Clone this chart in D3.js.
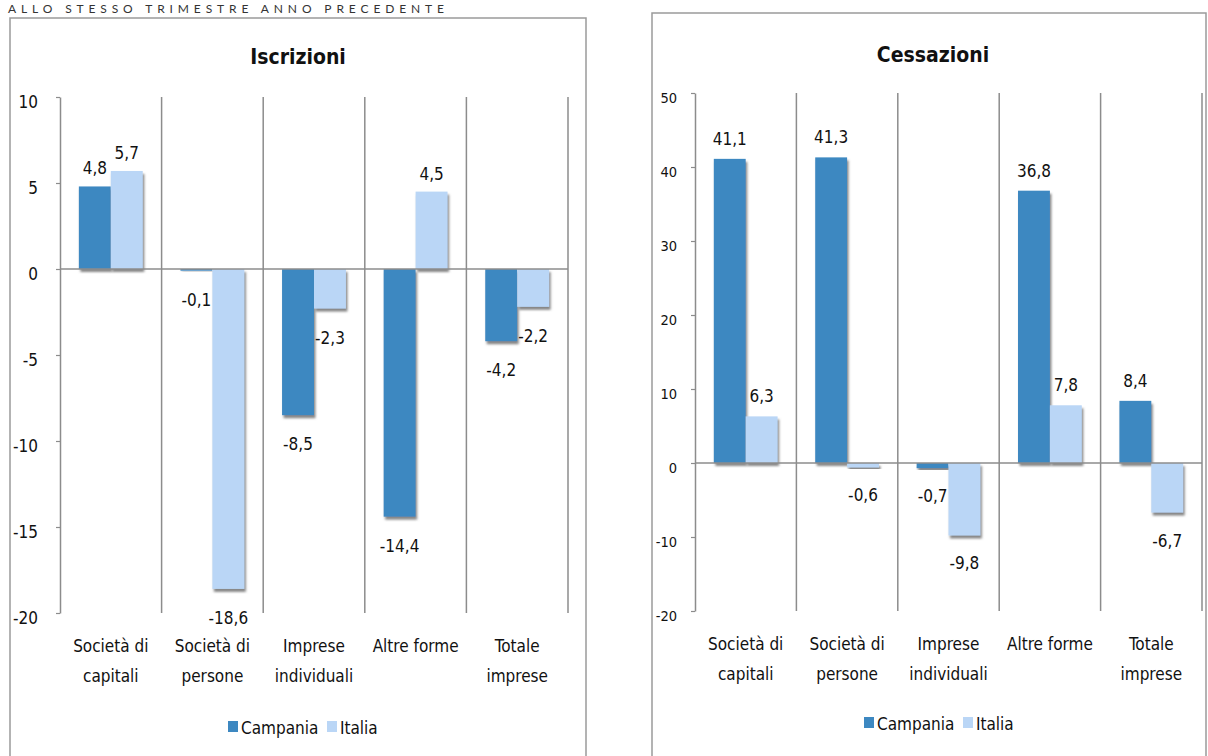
<!DOCTYPE html>
<html>
<head>
<meta charset="utf-8">
<script src="https://cdn.jsdelivr.net/npm/d3@7"></script>
<style>
  body { margin: 0; background: #fff; }
  svg text { font-family: "Liberation Sans Narrow", "DejaVu Sans Condensed", "Roboto Condensed", sans-serif; fill: #111; }
</style>
</head>
<body>
<div id="chart"></div>
<script>
// categories (the \n marks where the label wraps)
var categories = ["Società di\ncapitali", "Società di\npersone", "Imprese\nindividuali", "Altre forme", "Totale\nimprese"];
var seriesNames = ["Campania", "Italia"];

var iscrizioniCampania = [4.8, -0.1, -8.5, -14.4, -4.2];
var iscrizioniItalia   = [5.7, -18.6, -2.3, 4.5, -2.2];
var iscrizioniTicks    = [10, 5, 0, -5, -10, -15, -20];

var cessazioniCampania = [41.1, 41.3, -0.7, 36.8, 8.4];
var cessazioniItalia   = [6.3, -0.6, -9.8, 7.8, -6.7];
var cessazioniTicks    = [50, 40, 30, 20, 10, 0, -10, -20];

var colors = ["#3d88c1", "#bad6f6"];

var svg = d3.select("#chart").append("svg")
    .attr("width", 1208)
    .attr("height", 756);

var defs = svg.append("defs");
defs.append("filter").attr("id", "barShadow")
    .attr("x", "-20%").attr("y", "-20%").attr("width", "140%").attr("height", "140%")
  .append("feDropShadow")
    .attr("dx", 1.5).attr("dy", 3).attr("stdDeviation", 0.8)
    .attr("flood-color", "#7a7a7a").attr("flood-opacity", 0.9);

// page header at the top edge
svg.append("text")
    .attr("x", 8).attr("y", 13)
    .attr("textLength", 436).attr("lengthAdjust", "spacing")
    .style("font-family", "Lato, 'DejaVu Sans', sans-serif")
    .style("font-size", "12px")
    .style("fill", "#333")
    .text("ALLO STESSO TRIMESTRE ANNO PRECEDENTE");

function fmt(v) { return v.toFixed(1).replace(".", ","); }

function drawPanel(p) {
    var g = svg.append("g");

    // chart frame
    g.append("rect")
        .attr("x", p.box[0]).attr("y", p.box[1])
        .attr("width", p.box[2] - p.box[0]).attr("height", p.box[3] - p.box[1])
        .attr("fill", "#fff").attr("stroke", "#9a9a9a").attr("stroke-width", 1.5);

    g.append("text")
        .attr("x", p.titleX).attr("y", p.titleY)
        .attr("text-anchor", "middle")
        .style("font-size", "21px").style("font-weight", "bold")
        .text(p.title);

    var x = d3.scaleBand().domain(categories).range([p.left, p.right]).padding(0);
    var xs = d3.scaleBand().domain(seriesNames).range([0, x.bandwidth()])
        .paddingInner(0).paddingOuter(0.59);
    var y = d3.scaleLinear().domain(p.domain).range([p.bottom, p.top]);

    // y axis
    var yAxis = g.append("g")
        .attr("transform", "translate(" + p.left + ",0)")
        .call(d3.axisLeft(y).tickValues(p.ticks).tickSize(4).tickSizeOuter(0)
            .tickPadding(p.tickPad).tickFormat(function(d) { return String(d); }));
    yAxis.select(".domain").attr("stroke", "#8c8c8c").attr("stroke-width", 1.5);
    yAxis.selectAll(".tick line").attr("stroke", "#8c8c8c").attr("stroke-width", 1.2);
    yAxis.selectAll(".tick text")
        .attr("dy", "0.32em")
        .attr("y", 5)
        .style("font-size", p.tickFont)
        .attr("font-family", null)
        .attr("fill", "#111");

    // vertical separators between categories
    g.selectAll(".sep")
        .data(categories)
        .enter().append("line")
        .attr("class", "sep")
        .attr("x1", function(d) { return x(d) + x.bandwidth(); })
        .attr("x2", function(d) { return x(d) + x.bandwidth(); })
        .attr("y1", p.top).attr("y2", p.bottom)
        .attr("stroke", "#8c8c8c").attr("stroke-width", 1.5);

    var rows = categories.map(function(c, i) {
        return { cat: c, values: [{ s: seriesNames[0], v: p.campania[i] }, { s: seriesNames[1], v: p.italia[i] }] };
    });

    var groups = g.selectAll(".grp")
        .data(rows)
        .enter().append("g")
        .attr("class", "grp")
        .attr("transform", function(d) { return "translate(" + x(d.cat) + ",0)"; });

    groups.selectAll("rect")
        .data(function(d) { return d.values; })
        .enter().append("rect")
        .attr("x", function(d) { return xs(d.s); })
        .attr("width", xs.bandwidth())
        .attr("y", function(d) { return y(Math.max(0, d.v)); })
        .attr("height", function(d) { return Math.abs(y(d.v) - y(0)); })
        .attr("fill", function(d, i) { return colors[i]; })
        .attr("filter", "url(#barShadow)");

    groups.selectAll(".lbl")
        .data(function(d) { return d.values; })
        .enter().append("text")
        .attr("class", "lbl")
        .attr("text-anchor", "middle")
        .attr("x", function(d) { return xs(d.s) + xs.bandwidth() / 2; })
        .attr("y", function(d) { return d.v >= 0 ? y(d.v) - p.posOff : y(d.v) + p.negOff; })
        .attr("dy", "0.35em")
        .style("font-size", "17px")
        .text(function(d) { return fmt(d.v); });

    // zero line on top of the bars
    g.append("line")
        .attr("x1", p.left).attr("x2", p.right)
        .attr("y1", y(0)).attr("y2", y(0))
        .attr("stroke", "#8c8c8c").attr("stroke-width", 1.5);

    // category labels
    g.selectAll(".cat")
        .data(categories)
        .enter().append("text")
        .attr("class", "cat")
        .attr("text-anchor", "middle")
        .attr("x", function(d) { return x(d) + x.bandwidth() / 2; })
        .attr("y", p.catY)
        .style("font-size", "17px")
        .each(function(d) {
            var t = d3.select(this);
            d.split("\n").forEach(function(line, i) {
                t.append("tspan")
                    .attr("x", x(d) + x.bandwidth() / 2)
                    .attr("dy", i === 0 ? 0 : 29.5)
                    .text(line);
            });
        });

    // legend
    var lg = g.append("g").attr("transform", "translate(" + p.legendX + "," + p.legendY + ")");
    var item = lg.selectAll(".li")
        .data(seriesNames)
        .enter().append("g")
        .attr("transform", function(d, i) { return "translate(" + (i * 99) + ",0)"; });
    item.append("rect")
        .attr("x", 0).attr("y", -13).attr("width", 10).attr("height", 11)
        .attr("fill", function(d, i) { return colors[i]; });
    item.append("text")
        .attr("x", 13).attr("y", 0)
        .style("font-size", "17px")
        .text(function(d) { return d; });
}

drawPanel({
    box: [10, 18, 586, 790],
    title: "Iscrizioni", titleX: 298, titleY: 64,
    left: 60, right: 568, top: 97, bottom: 613,
    domain: [-20, 10], ticks: iscrizioniTicks,
    tickFont: "17px", tickPad: 18,
    campania: iscrizioniCampania, italia: iscrizioniItalia,
    posOff: 18, negOff: 29,
    catY: 652, legendX: 228, legendY: 734
});

drawPanel({
    box: [652, 13, 1206, 790],
    title: "Cessazioni", titleX: 933, titleY: 62,
    left: 695, right: 1202, top: 93, bottom: 611,
    domain: [-20, 50], ticks: cessazioniTicks,
    tickFont: "14.5px", tickPad: 14,
    campania: cessazioniCampania, italia: cessazioniItalia,
    posOff: 20, negOff: 28,
    catY: 650, legendX: 864, legendY: 730
});
</script>
</body>
</html>
